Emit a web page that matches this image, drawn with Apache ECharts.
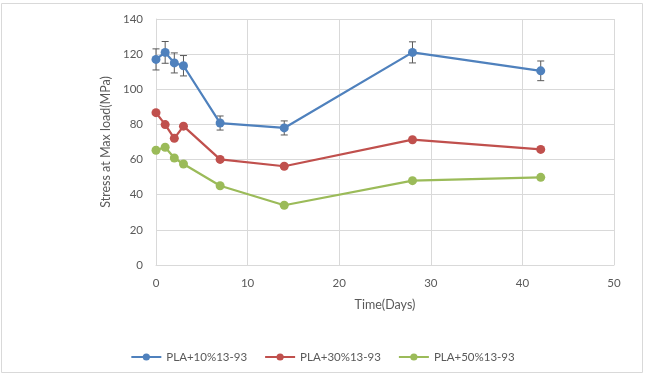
<!DOCTYPE html>
<html>
<head>
<meta charset="utf-8">
<script src="https://cdn.jsdelivr.net/npm/echarts@6/dist/echarts.min.js"></script>
<style>
  html, body { margin: 0; padding: 0; background: #fff; }
  #chart { width: 645px; height: 377px; }
</style>
</head>
<body>
<div id="chart"></div>
<script>
// 数据
const days = [0, 1, 2, 3, 7, 14, 28, 42];
const pla10 = [117, 121, 115, 113.4, 80.8, 78, 121, 110.5];
const pla30 = [86.7, 79.9, 72.1, 79, 60.1, 56.2, 71.3, 65.8];
const pla50 = [65.3, 67, 60.9, 57.5, 45.1, 34, 48, 49.9];
const pla10Err = [6, 6.2, 5.7, 5.8, 4, 4, 6, 5.6];
const seriesNames = ['PLA+10%13-93', 'PLA+30%13-93', 'PLA+50%13-93'];
const colors = ['#4f81bd', '#c0504d', '#9bbb59'];

const font = 'Lato, "Open Sans", sans-serif';

const toPairs = vals => days.map((d, i) => [d, vals[i]]);
const errData = days.map((d, i) => [d, pla10[i] - pla10Err[i], pla10[i] + pla10Err[i]]);

const chart = echarts.init(document.getElementById('chart'));

const lineSeries = [pla10, pla30, pla50].map((vals, i) => ({
  name: seriesNames[i],
  type: 'line',
  data: toPairs(vals),
  symbol: 'circle',
  symbolSize: 9,
  lineStyle: { width: 2.25, color: colors[i] },
  itemStyle: { color: colors[i] },
  z: 3
}));

chart.setOption({
  animation: false,
  color: colors,
  grid: { left: 156, right: 31, top: 19, bottom: 112 },
  graphic: [{
    type: 'rect',
    shape: { x: 1.5, y: 3.5, width: 641, height: 369 },
    style: { fill: 'none', stroke: '#d9d9d9', lineWidth: 1 },
    silent: true
  }],
  legend: {
    data: seriesNames,
    left: 'center',
    top: 346,
    itemWidth: 30,
    itemHeight: 9,
    itemGap: 17,
    textStyle: { fontFamily: font, fontSize: 11.5, color: '#595959' }
  },
  xAxis: {
    type: 'value',
    min: 0,
    max: 50,
    interval: 10,
    name: 'Time(Days)',
    nameLocation: 'middle',
    nameGap: 33,
    nameTextStyle: { fontFamily: font, fontSize: 12.5, color: '#595959' },
    axisLine: { lineStyle: { color: '#d9d9d9' } },
    axisTick: { show: false },
    axisLabel: { fontFamily: font, fontSize: 11.5, color: '#595959', margin: 12 },
    splitLine: { lineStyle: { color: '#d9d9d9' } }
  },
  yAxis: {
    type: 'value',
    min: 0,
    max: 140,
    interval: 20,
    name: 'Stress at Max load(MPa)',
    nameLocation: 'middle',
    nameGap: 42,
    nameTextStyle: { fontFamily: font, fontSize: 12.5, color: '#595959' },
    axisLine: { show: true, lineStyle: { color: '#d9d9d9' } },
    axisTick: { show: false },
    axisLabel: { fontFamily: font, fontSize: 11.5, color: '#595959', margin: 13 },
    splitLine: { lineStyle: { color: '#d9d9d9' } }
  },
  series: [
    ...lineSeries,
    {
      type: 'custom',
      name: 'err',
      data: errData,
      z: 2,
      silent: true,
      renderItem: function (params, api) {
        const x = api.value(0);
        const lo = api.coord([x, api.value(1)]);
        const hi = api.coord([x, api.value(2)]);
        const w = 3.5;
        const style = { stroke: '#595959', lineWidth: 1 };
        return {
          type: 'group',
          children: [
            { type: 'line', shape: { x1: hi[0], y1: hi[1], x2: lo[0], y2: lo[1] }, style },
            { type: 'line', shape: { x1: hi[0] - w, y1: hi[1], x2: hi[0] + w, y2: hi[1] }, style },
            { type: 'line', shape: { x1: lo[0] - w, y1: lo[1], x2: lo[0] + w, y2: lo[1] }, style }
          ]
        };
      }
    }
  ]
});

window.addEventListener('resize', function () {
  chart.resize();
});
</script>
</body>
</html>
